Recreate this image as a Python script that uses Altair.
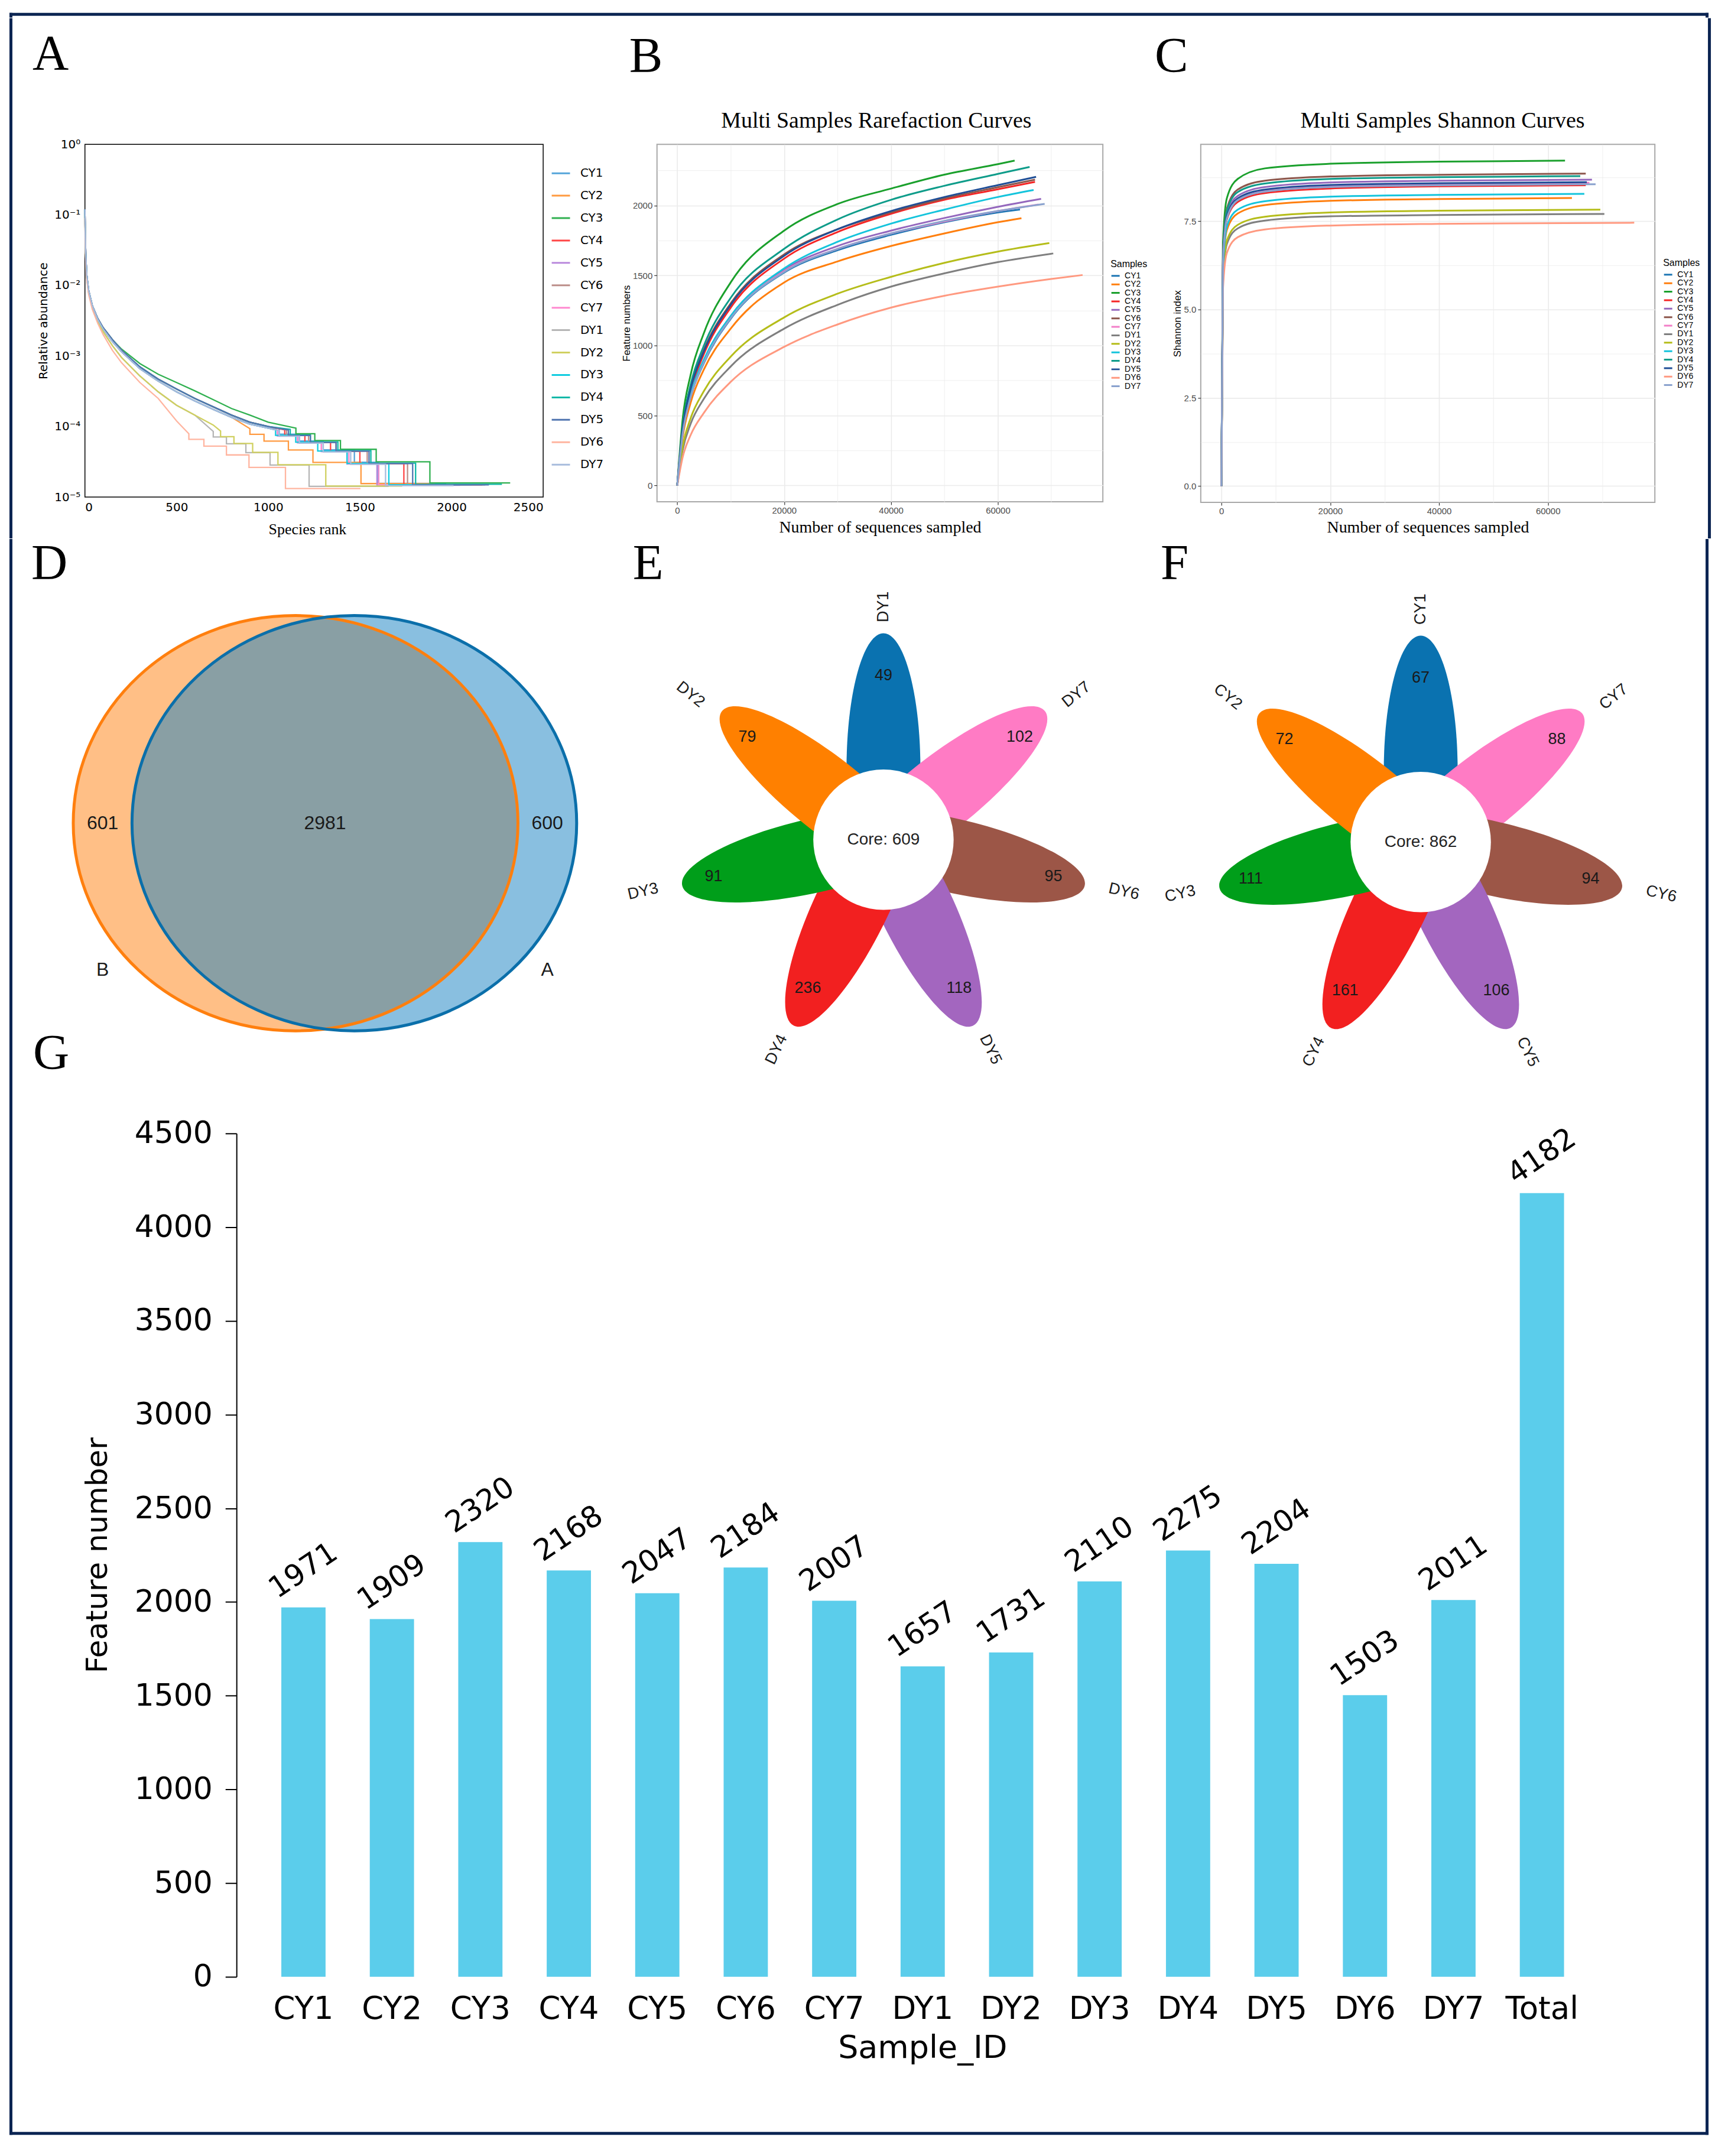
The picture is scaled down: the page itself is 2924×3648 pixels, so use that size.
import math
import pandas as pd
import altair as alt

# ------------------------------------------------------------------ data
SAMPLES = ["CY1", "CY2", "CY3", "CY4", "CY5", "CY6", "CY7",
           "DY1", "DY2", "DY3", "DY4", "DY5", "DY6", "DY7"]

# Panel G: feature numbers per sample
G_IDS = SAMPLES + ["Total"]
G_FEATURES = [1971, 1909, 2320, 2168, 2047, 2184, 2007,
              1657, 1731, 2110, 2275, 2204, 1503, 2011, 4182]

# Sequencing depth (end of the rarefaction curves)
SEQ_END = {"CY1": 64150, "CY2": 64420, "CY3": 63150, "CY4": 66960, "CY5": 68100,
           "CY6": 66960, "CY7": 67630, "DY1": 70380, "DY2": 69640, "DY3": 66700,
           "DY4": 65950, "DY5": 67160, "DY6": 75870, "DY7": 68770}

# Panel B: rarefaction curves (feature numbers at sampled depths)
RARE_DEPTH = [0, 1000, 2500, 5000, 10000, 20000, 30000, 40000, 50000, 60000, 70000]
RARE = {
    "CY1": [0, 365, 630, 875, 1190, 1520, 1680, 1790, 1880, 1950, None],
    "CY2": [0, 340, 590, 830, 1120, 1450, 1600, 1710, 1800, 1880, None],
    "CY3": [0, 470, 790, 1090, 1450, 1820, 2010, 2120, 2220, 2295, None],
    "CY4": [0, 390, 670, 940, 1270, 1620, 1810, 1940, 2040, 2115, None],
    "CY5": [0, 375, 640, 895, 1210, 1540, 1710, 1820, 1910, 1990, None],
    "CY6": [0, 410, 700, 970, 1300, 1650, 1830, 1950, 2050, 2130, None],
    "CY7": [0, 370, 635, 885, 1200, 1530, 1690, 1800, 1885, 1960, None],
    "DY1": [0, 250, 440, 620, 850, 1120, 1290, 1420, 1515, 1595, None],
    "DY2": [0, 275, 480, 675, 920, 1200, 1370, 1490, 1590, 1670, None],
    "DY3": [0, 380, 650, 900, 1210, 1550, 1740, 1870, 1970, 2060, None],
    "DY4": [0, 420, 720, 1000, 1340, 1690, 1900, 2040, 2140, 2225, None],
    "DY5": [0, 400, 690, 960, 1290, 1640, 1830, 1960, 2060, 2145, None],
    "DY6": [0, 200, 360, 520, 740, 990, 1150, 1270, 1355, 1420, 1475],
    "DY7": [0, 365, 630, 880, 1195, 1525, 1690, 1800, 1890, 1960, None],
}

# Panel C: Shannon curves
SHAN_DEPTH = [0, 300, 1000, 3000, 8000, 20000, 40000]
SHAN = {
    "CY1": [0, 6.35, 7.60, 8.12, 8.37, 8.50, 8.55],
    "CY2": [0, 6.05, 7.25, 7.72, 7.96, 8.08, 8.13],
    "CY3": [0, 6.90, 8.15, 8.70, 9.00, 9.13, 9.19],
    "CY4": [0, 6.30, 7.55, 8.05, 8.30, 8.43, 8.49],
    "CY5": [0, 6.45, 7.70, 8.22, 8.47, 8.60, 8.65],
    "CY6": [0, 6.60, 7.85, 8.40, 8.65, 8.77, 8.82],
    "CY7": [0, 6.40, 7.62, 8.13, 8.38, 8.51, 8.56],
    "DY1": [0, 5.80, 6.85, 7.30, 7.52, 7.64, 7.68],
    "DY2": [0, 5.90, 6.95, 7.40, 7.63, 7.75, 7.80],
    "DY3": [0, 6.15, 7.35, 7.83, 8.07, 8.20, 8.25],
    "DY4": [0, 6.50, 7.80, 8.33, 8.57, 8.70, 8.75],
    "DY5": [0, 6.40, 7.65, 8.15, 8.40, 8.53, 8.58],
    "DY6": [0, 5.60, 6.60, 7.05, 7.27, 7.38, 7.43],
    "DY7": [0, 6.35, 7.58, 8.10, 8.34, 8.47, 8.52],
}
SHAN_END = {"CY1": 8.58, "CY2": 8.16, "CY3": 9.22, "CY4": 8.52, "CY5": 8.68,
            "CY6": 8.85, "CY7": 8.59, "DY1": 7.71, "DY2": 7.83, "DY3": 8.28,
            "DY4": 8.78, "DY5": 8.61, "DY6": 7.46, "DY7": 8.55}

# Panel A: rank-abundance (head of the curves, then read-count steps)
RANK_HEAD = [0, 2, 5, 10, 20, 40, 70, 100, 150, 200, 300, 400, 500, 600, 700, 800, 900, 1000]
HEADS = {
    "high": [0.11, 0.045, 0.022, 0.013, 0.0080, 0.0050, 0.0033, 0.0025, 0.0017, 0.00125,
             0.00078, 0.00055, 0.00042, 0.00032, 0.00024, 0.00018, 0.000145, 0.000115],
    "midA": [0.12, 0.05, 0.025, 0.014, 0.0085, 0.0052, 0.0034, 0.0025, 0.0017, 0.0012,
             0.00070, 0.00047, 0.00034, 0.00025, 0.00019, 0.000145, 0.000115, 0.000100],
    "midB": [0.12, 0.05, 0.025, 0.014, 0.0085, 0.0052, 0.0033, 0.0024, 0.0016, 0.00115,
             0.00066, 0.00044, 0.00031, 0.00023, 0.000175, 0.000135, 0.000108, 0.000095],
    "low": [0.10, 0.045, 0.022, 0.013, 0.0080, 0.0050, 0.0031, 0.0022, 0.0014, 0.00095,
            0.00052, 0.00031, 0.00020, 0.000145, 0.000105, 0.00008, 0.00006, 0.00005],
    "dy6": [0.09, 0.04, 0.020, 0.012, 0.0075, 0.0046, 0.0029, 0.0020, 0.0012, 0.00080,
            0.00042, 0.00025, 0.00012, 0.00010, 0.00007, 0.00005, 0.00004, 0.00003],
}
HEAD_OF = {"CY1": "midB", "CY2": "midB", "CY3": "high", "CY4": "midA", "CY5": "midB",
           "CY6": "midA", "CY7": "midB", "DY1": "low", "DY2": "low", "DY3": "midB",
           "DY4": "midA", "DY5": "midA", "DY6": "dy6", "DY7": "midB"}
# ranks where read counts drop 6->5, 5->4, 4->3, 3->2, 2->1
TAIL_DROPS = {
    "CY1": [1060, 1170, 1300, 1470, 1600], "CY2": [900, 977, 1110, 1244, 1506],
    "CY3": [1151, 1254, 1394, 1589, 1882], "CY4": [1090, 1200, 1340, 1500, 1740],
    "CY5": [1050, 1160, 1290, 1430, 1593], "CY6": [1100, 1220, 1370, 1540, 1760],
    "CY7": [1050, 1160, 1290, 1440, 1603], "DY1": [700, 772, 878, 1010, 1223],
    "DY2": [740, 813, 915, 1053, 1314], "DY3": [1040, 1150, 1270, 1430, 1658],
    "DY4": [1120, 1230, 1380, 1560, 1804], "DY5": [1110, 1230, 1370, 1550, 1788],
    "DY6": [567, 649, 772, 895, 1094], "DY7": [1060, 1170, 1300, 1450, 1640],
}

# Panel D: Venn
VENN_SETS = ["B", "A"]
VENN_ONLY = [601, 600]
VENN_SHARED = 2981

# Panels E, F: flower diagrams (clockwise from the top)
E_NAMES = ["DY1", "DY7", "DY6", "DY5", "DY4", "DY3", "DY2"]
E_UNIQUE = [49, 102, 95, 118, 236, 91, 79]
E_CORE = 609
F_NAMES = ["CY1", "CY7", "CY6", "CY5", "CY4", "CY3", "CY2"]
F_UNIQUE = [67, 88, 94, 106, 161, 111, 72]
F_CORE = 862

# ------------------------------------------------------------------ styles / layout
NAVY = "#0B2452"
A_COLORS = ["#55A5DA", "#FF9A40", "#30B050", "#FF4545", "#BA8ADD", "#BC8F8A", "#FF8AD0",
            "#B5B5B5", "#D0D060", "#10CCE0", "#10B8A8", "#5075B0", "#FFB5A0", "#A8BCDD"]
BC_COLORS = ["#1F77B4", "#FF7F0E", "#1AA02C", "#F52525", "#9467BD", "#8C564B", "#F27FC8",
             "#7F7F7F", "#B5BD1A", "#14C4DC", "#0E9C8A", "#1F4E96", "#FF9980", "#8AA2CE"]
PETAL_COLORS = ["#0A72B0", "#FF8000", "#009E1A", "#F22020", "#A366BF", "#9C5647", "#FF7BC4"]

# page-coordinate layout (cells tile the page, plot origins inside them)
COL_X = [8, 1035, 1948, 2916]
ROW_Y = [8, 26, 908, 1826, 3640]     # top strip, row 1, row 2, row 3
LEFT_ORIGIN = 143                    # plot origin of every first-column panel
FRAME = (15, 18, 2896, 3614)         # outer edges of the navy frame
FW = 5.0

ONE = pd.DataFrame({"f": [0]})


def rect(x1, x2, y1, y2, ox, oy, **kw):
    return alt.Chart(ONE).mark_rect(**kw).encode(
        x=alt.value(x1 - ox), x2=alt.value(x2 - ox), y=alt.value(y1 - oy), y2=alt.value(y2 - oy))


def cell(c0, c1, r0, r1, ox, oy):
    return rect(COL_X[c0], COL_X[c1], ROW_Y[r0], ROW_Y[r1], ox, oy, fill="white", fillOpacity=0)


def frame_parts(parts, ox, oy):
    L, T, R, B = FRAME
    out = []
    for p in parts:
        kind = p[0]
        if kind == "top":
            out.append(rect(L, R, T, T + FW, ox, oy, color=NAVY))
        elif kind == "bottom":
            out.append(rect(L, R, B - FW, B, ox, oy, color=NAVY))
        elif kind == "left":
            out.append(rect(L, L + FW, p[1], p[2], ox, oy, color=NAVY))
        elif kind == "right":
            out.append(rect(R - FW, R, p[1], p[2], ox, oy, color=NAVY))
    return out


def text_at(s, x, y, ox, oy, **kw):
    return alt.Chart(pd.DataFrame({"t": [s]})).mark_text(**kw).encode(
        x=alt.value(x - ox), y=alt.value(y - oy), text="t:N")


def letter(ch, x, y, ox, oy):
    return text_at(ch, x, y, ox, oy, font="Liberation Serif", fontSize=85, align="left",
                   baseline="alphabetic", color="black")


def cond(test, a, b):
    return {"condition": {"test": test, "value": a}, "value": b}


# ------------------------------------------------------------------ top strip (frame top edge)
TX, TY = LEFT_ORIGIN, ROW_Y[0]
panelTop = alt.layer(
    cell(0, 3, 0, 1, TX, TY),
    *frame_parts([("top",), ("left", FRAME[1], ROW_Y[1]), ("right", FRAME[1], ROW_Y[1])], TX, TY)
).properties(width=1, height=1)

# ------------------------------------------------------------------ panel A
AX, AY, AW, AH = LEFT_ORIGIN, 240, 777, 598
rank_rows = []
for s in SAMPLES:
    head = HEADS[HEAD_OF[s]]
    n_reads = SEQ_END[s]
    drops = TAIL_DROPS[s]
    k = 0
    for r, a in zip(RANK_HEAD, head):
        if r < drops[0] and a > 6.0 / n_reads:
            rank_rows.append((s, k, r, a)); k += 1
    level = 6
    for r in drops:
        rank_rows.append((s, k, r, level / n_reads)); k += 1
        level -= 1
        rank_rows.append((s, k, r, level / n_reads)); k += 1
    rank_rows.append((s, k, G_FEATURES[SAMPLES.index(s)], 1.0 / n_reads))
df_rank = pd.DataFrame(rank_rows, columns=["sample", "i", "rank", "abund"])

sup = '["\u2070","\u207b\u00b9","\u207b\u00b2","\u207b\u00b3","\u207b\u2074","\u207b\u2075"]'
a_lines = alt.Chart(df_rank).mark_line(strokeWidth=2.3).encode(
    x=alt.X("rank:Q", scale=alt.Scale(domain=[0, 2500], nice=False, zero=False),
            axis=alt.Axis(values=[0, 500, 1000, 1500, 2000, 2500], format="d", grid=False,
                          domain=False, ticks=False, labelFont="DejaVu Sans", labelFontSize=20,
                          labelColor="black", labelPadding=8, title="Species rank",
                          titleFont="Liberation Serif", titleFontSize=26, titleFontWeight="normal",
                          titleColor="black", titleX=520 - AX, titleY=893 - (AY + AH),
                          titleBaseline="middle", titleAlign="center")),
    y=alt.Y("abund:Q", scale=alt.Scale(type="log", domain=[1e-5, 1], nice=False),
            axis=alt.Axis(values=[1e-5, 1e-4, 1e-3, 1e-2, 1e-1, 1],
                          labelExpr='"10" + ' + sup + '[round(-log(datum.value)/LN10)]',
                          grid=False, domain=False, ticks=False, labelFont="DejaVu Sans",
                          labelFontSize=20, labelColor="black", labelPadding=8,
                          title="Relative abundance", titleFont="DejaVu Sans", titleFontSize=20,
                          titleFontWeight="normal", titleColor="black", titlePadding=8)),
    color=alt.Color("sample:N", sort=SAMPLES, scale=alt.Scale(domain=SAMPLES, range=A_COLORS),
                    legend=alt.Legend(orient="none", legendX=790, legendY=33.5, title=None,
                                      symbolType="stroke", symbolSize=961, symbolStrokeWidth=3,
                                      labelFont="DejaVu Sans", labelFontSize=20, labelColor="black",
                                      clipHeight=31, rowPadding=7, labelOffset=16, padding=0)),
    order=alt.Order("i:Q"),
)
panelA = alt.layer(
    cell(0, 1, 1, 2, AX, AY), a_lines, letter("A", 54, 113, AX, AY),
    *frame_parts([("left", ROW_Y[1], ROW_Y[2])], AX, AY)
).properties(width=AW, height=AH, view=alt.ViewBackground(stroke="black", strokeWidth=1.5))


# ------------------------------------------------------------------ panels B, C
def curve_panel(df, px, py, pw, ph, col, ydomain, yvals, major, yfmt, ytitle, ypad, title,
                title_cx, leg_x, leg_y, ltr, ltr_x, frame_spec):
    xaxis = alt.Axis(values=[0, 10000, 20000, 30000, 40000, 50000, 60000, 70000],
                     labelExpr="datum.value % 20000 === 0 ? format(datum.value, 'd') : ''",
                     grid=True, gridColor="#EBEBEB",
                     gridWidth=cond("datum.value % 20000 === 0", 1.6, 0.8),
                     domain=False, tickColor="#333333", tickWidth=1.2, tickSize=5,
                     tickOpacity=cond("datum.value % 20000 === 0", 1, 0),
                     labelFont="Liberation Sans", labelFontSize=15, labelColor="#4D4D4D",
                     labelPadding=3, title="Number of sequences sampled",
                     titleFont="Liberation Serif", titleFontSize=28, titleFontWeight="normal",
                     titleColor="black", titleY=890 - (py + ph), titleBaseline="middle",
                     titleAlign="center")
    test = "abs(datum.value / %s - round(datum.value / %s)) < 1e-6" % (major, major)
    yaxis = alt.Axis(values=yvals,
                     labelExpr="%s ? format(datum.value, '%s') : ''" % (test, yfmt),
                     grid=True, gridColor="#EBEBEB", gridWidth=cond(test, 1.6, 0.8),
                     domain=False, tickColor="#333333", tickWidth=1.2, tickSize=5,
                     tickOpacity=cond(test, 1, 0),
                     labelFont="Liberation Sans", labelFontSize=15, labelColor="#4D4D4D",
                     labelPadding=3, title=ytitle, titleFont="Liberation Sans", titleFontSize=17,
                     titleFontWeight="normal", titleColor="black", titlePadding=ypad)
    lines = alt.Chart(df).mark_line(strokeWidth=3, interpolate="monotone").encode(
        x=alt.X("depth:Q", scale=alt.Scale(domain=[-3790, 79660], nice=False, zero=False), axis=xaxis),
        y=alt.Y("val:Q", scale=alt.Scale(domain=ydomain, nice=False, zero=False), axis=yaxis),
        color=alt.Color("sample:N", sort=SAMPLES, scale=alt.Scale(domain=SAMPLES, range=BC_COLORS),
                        legend=alt.Legend(orient="none", legendX=leg_x, legendY=leg_y, title="Samples",
                                          titleFont="Liberation Sans", titleFontSize=16,
                                          titleFontWeight="normal", titleColor="black", titlePadding=5,
                                          symbolType="stroke", symbolSize=196, symbolStrokeWidth=3,
                                          labelFont="Liberation Sans", labelFontSize=14,
                                          labelColor="black", clipHeight=14, rowPadding=0.4,
                                          labelOffset=7, padding=0)),
        order=alt.Order("i:Q"),
    )
    ttl = text_at(title, title_cx, 212, px, py, font="Liberation Serif", fontSize=38,
                  align="center", baseline="alphabetic", color="black")
    return alt.layer(
        cell(col, col + 1, 1, 2, px, py), lines, ttl, letter(ltr, ltr_x, 117, px, py),
        *frame_parts(frame_spec, px, py)
    ).properties(width=pw, height=ph, view=alt.ViewBackground(stroke="#A8A8A8", strokeWidth=2))


rare_rows = []
for s in SAMPLES:
    k = 0
    for x, y in zip(RARE_DEPTH, RARE[s]):
        if y is not None and x < SEQ_END[s]:
            rare_rows.append((s, k, x, y)); k += 1
    rare_rows.append((s, k, SEQ_END[s], G_FEATURES[SAMPLES.index(s)]))
df_rare = pd.DataFrame(rare_rows, columns=["sample", "i", "depth", "val"])

shan_rows = []
for s in SAMPLES:
    k = 0
    for x, y in zip(SHAN_DEPTH, SHAN[s]):
        shan_rows.append((s, k, x, y)); k += 1
    shan_rows.append((s, k, SEQ_END[s], SHAN_END[s]))
df_shan = pd.DataFrame(shan_rows, columns=["sample", "i", "depth", "val"])

BX, BY, BW, BH = 1111, 240, 756, 606
CX, CY, CW, CH = 2031, 240, 770, 607
panelB = curve_panel(df_rare, BX, BY, BW, BH, 1, [-116, 2436],
                     [0, 250, 500, 750, 1000, 1250, 1500, 1750, 2000, 2250],
                     "500", "d", "Feature numbers", 1, "Multi Samples Rarefaction Curves", 1483,
                     769, 195, "B", 1064, [])
panelC = curve_panel(df_shan, CX, CY, CW, CH, 2, [-0.461, 9.68],
                     [0, 1.25, 2.5, 3.75, 5, 6.25, 7.5, 8.75],
                     "2.5", ".1f", "Shannon index", 1.5, "Multi Samples Shannon Curves", 2441,
                     784, 193, "C", 1953, [("right", ROW_Y[1], ROW_Y[2])])


# ------------------------------------------------------------------ panel D (Venn)
def lens(d, r1, r2):
    if d >= r1 + r2:
        return 0.0
    if d <= abs(r1 - r2):
        return math.pi * min(r1, r2) ** 2
    a1 = r1 * r1 * math.acos((d * d + r1 * r1 - r2 * r2) / (2 * d * r1))
    a2 = r2 * r2 * math.acos((d * d + r2 * r2 - r1 * r1) / (2 * d * r2))
    a3 = 0.5 * math.sqrt((-d + r1 + r2) * (d + r1 - r2) * (d - r1 + r2) * (d + r1 + r2))
    return a1 + a2 - a3


r_b = math.sqrt((VENN_ONLY[0] + VENN_SHARED) / math.pi)
r_a = math.sqrt((VENN_ONLY[1] + VENN_SHARED) / math.pi)
lo, hi = abs(r_a - r_b) + 1e-9, r_a + r_b
for _ in range(80):
    mid = (lo + hi) / 2
    if lens(mid, r_b, r_a) > VENN_SHARED:
        lo = mid
    else:
        hi = mid
dist = (lo + hi) / 2 / r_b  # centre distance in radius units

DX, DY = LEFT_ORIGIN, ROW_Y[2]
DW, DH = COL_X[1] - DX, ROW_Y[3] - ROW_Y[2]
VCX, VCY = 550 - DX, 1390 - DY
VX_UNIT, VY_UNIT = 377.0, 352.0
venn_df = pd.DataFrame({"set": VENN_SETS, "cx": [-dist / 2, dist / 2], "cy": [0.0, 0.0]})
venn_txt = pd.DataFrame({
    "t": [str(VENN_ONLY[0]), str(VENN_SHARED), str(VENN_ONLY[1]), VENN_SETS[0], VENN_SETS[1]],
    "cx": [-1.0, 0.0, 1.0, -1.0, 1.0],
    "cy": [0.0, 0.0, 0.0, -0.705, -0.705]})
vxs = alt.Scale(domain=[-VCX / VX_UNIT, (DW - VCX) / VX_UNIT], nice=False, zero=False)
vys = alt.Scale(domain=[-(DH - VCY) / VY_UNIT, VCY / VY_UNIT], nice=False, zero=False)
ELLIPSE = "M -1 0 A 1 %.4f 0 1 0 1 0 A 1 %.4f 0 1 0 -1 0 Z" % (VY_UNIT / VX_UNIT, VY_UNIT / VX_UNIT)
venn_size = (2 * VX_UNIT) ** 2
vfill = alt.Chart(venn_df).mark_point(shape=ELLIPSE, filled=True, size=venn_size, opacity=0.5,
                                      strokeWidth=0).encode(
    x=alt.X("cx:Q", scale=vxs, axis=None), y=alt.Y("cy:Q", scale=vys, axis=None),
    fill=alt.Fill("set:N", scale=alt.Scale(domain=VENN_SETS, range=["#FF7F0E", "#1480C2"]), legend=None))
vstroke = alt.Chart(venn_df).mark_point(shape=ELLIPSE, filled=False, size=venn_size, opacity=1,
                                        strokeWidth=5).encode(
    x=alt.X("cx:Q", scale=vxs, axis=None), y=alt.Y("cy:Q", scale=vys, axis=None),
    stroke=alt.Stroke("set:N", scale=alt.Scale(domain=VENN_SETS, range=["#FF7F0E", "#0B6FAA"]), legend=None))
vtext = alt.Chart(venn_txt).mark_text(font="Liberation Sans", fontSize=32, color="#1a1a1a").encode(
    x=alt.X("cx:Q", scale=vxs, axis=None), y=alt.Y("cy:Q", scale=vys, axis=None), text="t:N")
panelD = alt.layer(
    cell(0, 1, 2, 3, DX, DY), vfill, vstroke, vtext,
    letter("D", 52, 976, DX, DY), letter("G", 55, 1807, DX, DY),
    *frame_parts([("left", ROW_Y[2], ROW_Y[3])], DX, DY)
).properties(width=DW, height=DH)


# ------------------------------------------------------------------ panels E, F (flowers)
PETAL = "M 0 0.316 A 0.179 0.658 0 1 1 0 -1 A 0.179 0.658 0 1 1 0 0.316 Z"
PETAL_LEN = 350.0
FX_UNIT, FY_UNIT = 356.0, 336.0


def flower(names, uniq, core, col, cx_page, cy_page, ltr, ltr_x, frame_spec):
    ox, oy = COL_X[col], ROW_Y[2]
    width, height = COL_X[col + 1] - ox, ROW_Y[3] - oy
    ccx, ccy = cx_page - ox, cy_page - oy
    n = len(names)
    df = pd.DataFrame({"name": names, "count": uniq, "k": list(range(n))})
    df["ang"] = df["k"] * 360.0 / n
    df["cx"] = 0.0
    df["cy"] = 0.0
    xs = alt.Scale(domain=[-ccx / FX_UNIT, (width - ccx) / FX_UNIT], nice=False, zero=False)
    ys = alt.Scale(domain=[-(height - ccy) / FY_UNIT, ccy / FY_UNIT], nice=False, zero=False)
    X = lambda f: alt.X(f, scale=xs, axis=None)
    Y = lambda f: alt.Y(f, scale=ys, axis=None)
    order = sorted(names)
    petals = alt.Chart(df).mark_point(shape=PETAL, filled=True, opacity=1, strokeWidth=0,
                                      size=(2 * PETAL_LEN) ** 2).encode(
        x=X("cx:Q"), y=Y("cy:Q"), angle=alt.Angle("ang:Q", scale=None),
        fill=alt.Fill("name:N", scale=alt.Scale(domain=order, range=PETAL_COLORS), legend=None))
    cdf = pd.DataFrame({"cx": [0.0], "cy": [0.0], "t": ["Core: %d" % core]})
    core_pt = alt.Chart(cdf).mark_point(shape="circle", filled=True, color="white", opacity=1,
                                        strokeWidth=0, size=(2 * 119) ** 2).encode(x=X("cx:Q"), y=Y("cy:Q"))
    core_tx = alt.Chart(cdf).mark_text(font="Liberation Sans", fontSize=28, color="#222222").encode(
        x=X("cx:Q"), y=Y("cy:Q"), text="t:N")
    nums = alt.Chart(df).transform_calculate(
        tx="0.83*sin(datum.ang*PI/180)", ty="0.83*cos(datum.ang*PI/180)"
    ).mark_text(font="Liberation Sans", fontSize=27, color="#1a1a1a").encode(
        x=X("tx:Q"), y=Y("ty:Q"), text="count:Q")
    labs = alt.Chart(df).transform_calculate(
        tx="1.175*sin(datum.ang*PI/180)", ty="1.175*cos(datum.ang*PI/180)",
        rot="datum.ang < 180 ? (datum.ang + 270) % 360 : (datum.ang + 90) % 360"
    ).mark_text(font="Liberation Sans", fontSize=27, color="#1a1a1a").encode(
        x=X("tx:Q"), y=Y("ty:Q"), text="name:N", angle=alt.Angle("rot:Q", scale=None))
    return alt.layer(
        cell(col, col + 1, 2, 3, ox, oy), petals, core_pt, core_tx, nums, labs,
        letter(ltr, ltr_x, 976, ox, oy), *frame_parts(frame_spec, ox, oy)
    ).properties(width=width, height=height)


panelE = flower(E_NAMES, E_UNIQUE, E_CORE, 1, 1497, 1418, "E", 1072, [])
panelF = flower(F_NAMES, F_UNIQUE, F_CORE, 2, 2408, 1422, "F", 1967,
                [("right", ROW_Y[2], ROW_Y[3])])

# ------------------------------------------------------------------ panel G (bars)
GX, GY, GW, GH = LEFT_ORIGIN, 1916, 2475, 1430
AXIS_X = 400            # page x of the y axis line
G_SHIFT = 33
gdf = pd.DataFrame({"id": G_IDS, "n": G_FEATURES})
gx = alt.X("id:N", sort=G_IDS,
           scale=alt.Scale(paddingInner=0.5, paddingOuter=1, align=1),
           axis=alt.Axis(title="Sample_ID", labelAngle=0, domain=False, ticks=False, tickSize=0,
                         labelFont="DejaVu Sans", labelFontSize=53, labelColor="black",
                         labelBaseline="middle", labelPadding=55, labelOffset=G_SHIFT,
                         titleFont="DejaVu Sans", titleFontSize=54, titleFontWeight="normal",
                         titleColor="black", titleX=1563 - GX, titleY=121, titleBaseline="middle",
                         titleAlign="center"))
gy = alt.Y("n:Q", scale=alt.Scale(domain=[0, 4500], nice=False),
           axis=alt.Axis(values=list(range(0, 4501, 500)), format="d", grid=False,
                         offset=-(AXIS_X - GX),
                         domainColor="black", domainWidth=2, tickColor="black", tickWidth=2,
                         tickSize=19, labelFont="DejaVu Sans", labelFontSize=52, labelColor="black",
                         labelPadding=22, title="Feature number", titleFont="DejaVu Sans",
                         titleFontSize=50, titleFontWeight="normal", titleColor="black",
                         titleX=165 - AXIS_X, titleY=GH / 2, titleAngle=270, titleBaseline="middle",
                         titleAlign="center"))
bars = alt.Chart(gdf).mark_bar(color="#5BCDEB", xOffset=G_SHIFT).encode(x=gx, y=gy)
blabels = alt.Chart(gdf).mark_text(font="DejaVu Sans", fontSize=50, color="black", angle=326,
                                   align="center", baseline="middle", radius=62, theta=0,
                                   xOffset=G_SHIFT).encode(
    x=alt.X("id:N", sort=G_IDS), y=alt.Y("n:Q"), text="n:Q")
panelG = alt.layer(
    cell(0, 3, 3, 4, GX, GY), bars, blabels,
    *frame_parts([("left", ROW_Y[3], FRAME[3]), ("right", ROW_Y[3], FRAME[3]), ("bottom",)], GX, GY)
).properties(width=GW, height=GH)

# ------------------------------------------------------------------ assemble
RES = dict(color="independent", fill="independent", stroke="independent",
           x="independent", y="independent")
row1 = alt.hconcat(panelA, panelB, panelC, spacing=0).resolve_scale(**RES)
row2 = alt.hconcat(panelD, panelE, panelF, spacing=0).resolve_scale(**RES)
chart = alt.vconcat(panelTop, row1, row2, panelG, spacing=0).resolve_scale(**RES).resolve_legend(
    color="independent", fill="independent", stroke="independent"
).properties(padding=0, background="white").configure_view(stroke=None)

chart.save("out.html", embed_options={"renderer": "svg", "actions": False})
